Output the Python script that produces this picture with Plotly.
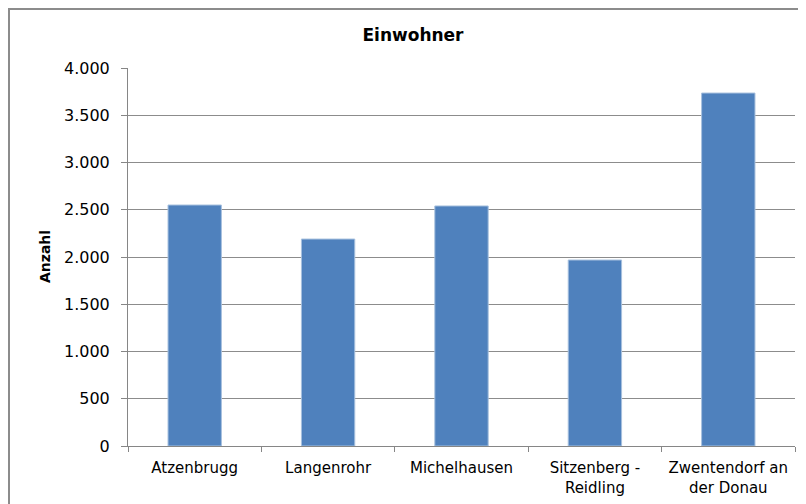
import plotly.graph_objects as go

categories = ["Atzenbrugg", "Langenrohr", "Michelhausen", "Sitzenberg -<br>Reidling", "Zwentendorf an<br>der Donau"]
values = [2550, 2190, 2540, 1968, 3735]
tick_vals = [0, 500, 1000, 1500, 2000, 2500, 3000, 3500, 4000]

FONT = "DejaVu Sans"

fig = go.Figure(go.Bar(
    x=categories, y=values,
    marker=dict(color="#4F81BD", line=dict(color="#A7C0DE", width=1)),
))

fig.update_layout(
    width=798, height=496,
    margin=dict(l=120, r=11, t=60, b=58),
    paper_bgcolor="white", plot_bgcolor="white",
    separators=",.",
    bargap=0.6,
    showlegend=False,
    font=dict(family=FONT, size=15, color="black"),
    title=dict(text="<b>Einwohner</b>", x=0.5075, xanchor="center", xref="container",
               y=0.9456, yanchor="middle", yref="container",
               font=dict(family=FONT, size=17, color="black")),
    shapes=[dict(type="rect", xref="paper", yref="paper",
                 x0=-0.1784, x1=1.05, y0=-0.3, y1=1.156,
                 line=dict(color="#8C8C8C", width=2), fillcolor="rgba(0,0,0,0)", layer="below")],
    annotations=[dict(text="<b>Anzahl</b>", xref="paper", yref="paper", x=-0.1244, y=0.5,
                      textangle=-90, showarrow=False, xanchor="center", yanchor="middle",
                      font=dict(family=FONT, size=14, color="black"))],
)

fig.update_xaxes(
    showline=True, linecolor="#868686", linewidth=1,
    ticks="outside", tickson="boundaries", ticklen=5, tickcolor="#868686",
    showgrid=False, tickangle=0, automargin=False, ticklabelstandoff=8,
    tickfont=dict(family=FONT, size=15, color="black"),
)
fig.update_yaxes(
    range=[0, 4000], tickvals=tick_vals, tickformat=",d",
    showline=True, linecolor="#868686", linewidth=1,
    ticks="outside", ticklen=6, tickcolor="#868686",
    showgrid=True, gridcolor="#8C8C8C", gridwidth=1,
    zeroline=False, automargin=False, ticklabelstandoff=8,
    tickfont=dict(family=FONT, size=16, color="black"),
)

fig.write_html("out.html")
